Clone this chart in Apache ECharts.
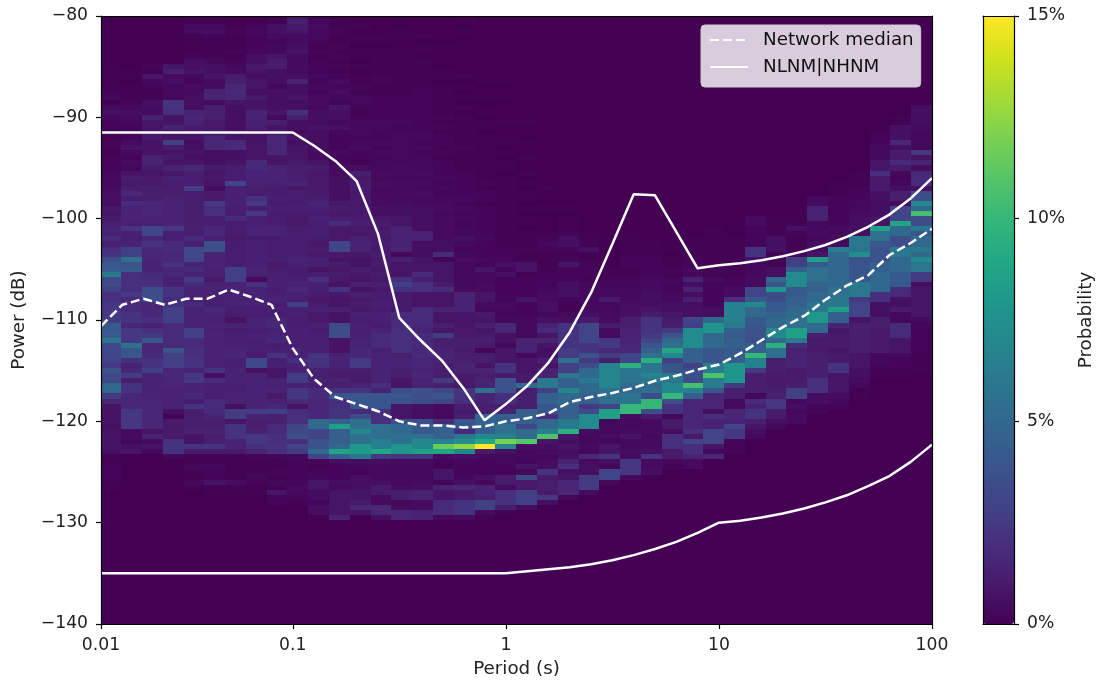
<!DOCTYPE html>
<html><head><meta charset="utf-8">
<style>html,body{margin:0;padding:0;background:#fff}#c{width:1098px;height:683px}</style>
<script src="https://cdn.jsdelivr.net/npm/echarts@6/dist/echarts.min.js"></script>
</head><body><div id="c"></div>
<script>
// Column edges of the probability grid (period, seconds)
const periodEdges = [0.01259,0.01565,0.01959,0.02453,0.03071,0.03845,0.04814,0.06026,0.07543,0.09443,0.1182,0.148,0.1853,0.2319,0.2904,0.3636,0.4552,0.57,0.7133,0.8932,1.118,1.4,1.753,2.194,2.747,3.44,4.305,5.391,6.747,8.447,10.57,13.24,16.58,20.75,25.98,32.52,40.72,50.97,63.82,79.89,100];
// Power of the first entry of each column (entries step down by 0.5 dB)
const columnTop = [-85,-85,-85,-85,-80,-80,-80,-80,-80,-80,-80,-80,-80,-80,-80,-80,-80,-80,-80,-85,-90,-95,-95,-100,-105,-100,-100,-100,-100,-100,-100,-100,-100,-100,-95,-95,-95,-90,-90,-85];
// Probability per column, tenths of a percent
const col00=[1,1,1,1,1,2,3,1,4,6, 3,2,2,2,1,2,2,1,2,2, 2,3,3,3,4,5,6,5,9,8, 9,13,14,14,18,13,20,22,35,42, 44,60,33,34,28,20,20,24,24,24, 26,42,42,44,58,33,33,30,30,25, 38,32,32,50,50,25,15,8,7,7, 8,6,7,7,8,7,6,1,1,2, 2,2,1,1];
const col01=[0,1,1,0,1,1,1,2,3,6, 4,3,2,3,2,4,7,3,2,4, 3,8,11,10,11,16,11,18,14,14, 14,13,22,13,13,14,28,28,55,38, 42,20,20,20,20,25,18,18,18,22, 22,16,24,24,24,55,40,40,20,14, 15,26,12,22,22,16,16,16,24,24, 24,24,4,4,3,6,8];
const col02=[2,1,8,3,2,1,1,5,5,4, 14,8,8,9,9,7,7,7,14,14, 10,8,10,10,13,12,12,16,16,16, 14,14,30,30,16,22,15,15,15,14, 14,18,20,20,35,35,35,16,16,16, 20,14,20,25,40,15,15,18,22,22, 28,14,14,14,14,14,16,16,16,16, 16,16,8,14,4,7,3];
const col03=[8,12,4,5,3,3,3,22,22,20, 8,8,14,8,8,28,10,8,10,8, 14,9,13,11,12,12,14,14,14,14, 14,14,24,13,13,18,18,16,16,22, 16,16,13,13,22,22,18,22,28,28, 28,18,18,18,18,18,38,28,28,28, 15,15,15,15,14,14,14,14,6,2, 10,10,10,10,22,22,22,3];
const col04=[0,1,3,5,1,1,1,1,2,5, 6,8,3,2,4,4,6,5,5,14, 15,14,10,10,8,6,6,8,6,8, 16,12,11,11,26,11,11,12,12,11, 12,12,13,12,18,13,32,32,30,14, 18,14,26,18,14,14,14,18,14,14, 14,14,28,28,18,18,20,20,22,22, 14,24,24,14,14,16,11,22,12,12, 12,12,14,8,8,22,10,1,1,3, 1,1,3,1];
const col05=[0,1,3,5,2,1,1,1,1,3, 6,6,8,4,4,14,14,4,12,13, 12,10,9,8,15,15,15,5,6,6, 10,8,9,8,6,10,9,24,20,20, 11,11,16,16,13,36,36,14,14,14, 13,13,9,14,14,14,13,13,16,14, 13,14,13,14,14,14,14,14,14,14, 22,5,18,13,13,11,18,18,18,14, 12,12,14,12,12,22,10,1,1,3, 2,2,7,1,1];
const col06=[0,0,1,2,1,1,1,2,1,2, 3,4,10,12,16,17,16,8,6,5, 6,6,5,8,8,18,18,6,6,8, 11,11,11,30,13,13,13,13,11,11, 18,11,11,11,9,11,11,11,11,11, 28,28,28,14,14,14,14,14,11,11, 7,14,11,13,13,13,14,16,13,13, 14,14,14,13,13,14,14,6,26,26, 8,22,22,22,14,14,10,1,1,1, 1,1,4,1,1];
const col07=[0,0,2,3,2,2,2,2,6,6, 9,7,5,8,8,6,9,7,7,14, 14,13,12,7,7,8,8,8,8,17, 17,14,14,14,12,11,20,24,12,24, 13,13,14,14,11,13,13,13,13,13, 14,14,4,20,14,14,14,14,11,11, 14,14,11,14,13,13,13,11,32,32, 6,14,14,14,14,14,14,14,26,14, 12,12,14,24,24,20,14,2,1,1, 1,3,2,1,1];
const col08=[0,1,6,6,4,2,3,3,8,11, 11,6,6,5,3,6,6,6,6,8, 4,12,8,8,16,16,16,16,8,8, 14,14,14,13,11,11,13,11,13,11, 11,11,14,14,11,11,11,11,13,9, 11,13,13,13,11,13,14,11,13,11, 16,16,13,14,16,11,13,22,13,13, 8,8,14,13,14,9,13,16,28,13, 12,18,18,20,20,22,20,3,1,1, 2,1,3,1,8,2,2];
const col09=[8,12,10,8,4,4,6,8,4,4, 4,4,6,14,6,6,8,6,6,20, 12,6,6,4,8,6,8,8,8,10, 12,11,11,14,9,11,11,11,13,11, 9,9,11,11,11,11,11,11,14,13, 11,11,13,14,16,13,13,28,13,13, 11,11,13,13,13,13,14,14,20,14, 14,26,26,13,24,24,18,7,20,20, 20,30,34,36,20,30,26,3,2,2, 2,2,2,4,3,2,1];
const col10=[1,3,4,3,3,2,1,2,1,2, 2,2,3,2,3,2,4,4,3,5, 5,4,7,5,5,5,5,4,4,8, 11,9,9,10,9,10,11,14,13,11, 13,11,11,13,11,9,11,9,13,13, 7,11,20,13,13,11,9,11,13,9, 9,13,11,13,13,13,13,22,22,20, 13,13,14,13,18,18,15,15,16,16, 50,50,30,30,38,38,52,30,2,1, 2,3,8,8,4,4,2,5,5,1];
const col11=[0,1,1,2,1,1,2,1,2,1, 2,1,2,4,2,4,3,2,8,6, 6,3,6,2,2,2,2,4,2,2, 4,4,6,6,6,6,6,9,11,9, 11,18,9,9,9,30,30,9,7,11, 9,11,9,7,22,9,8,8,13,7, 7,34,34,34,7,7,7,14,14,14, 12,10,14,12,22,40,20,20,22,22, 45,85,45,45,45,50,88,45,5,2, 2,2,5,4,8,8,8,8,8,14];
const col12=[0,0,1,0,1,1,0,1,1,0, 1,0,1,1,2,1,3,3,2,1, 2,3,3,3,2,3,4,2,2,1, 5,12,9,11,11,9,9,9,9,9, 11,13,9,9,13,14,14,9,7,7, 11,9,8,13,7,13,9,11,9,13, 11,13,13,13,14,14,16,16,26,26, 12,10,10,14,22,40,40,40,18,35, 55,55,70,55,55,82,82,60,5,3, 2,6,6,5,8,8,10,16,8];
const col13=[0,0,0,0,1,1,0,1,1,1, 1,1,2,2,1,1,2,2,2,2, 2,3,3,2,2,3,2,3,2,3, 3,4,3,5,4,4,4,4,6,6, 9,11,9,11,9,11,9,11,9,11, 9,11,9,13,9,11,11,13,11,13, 13,11,14,18,18,18,13,14,14,14, 14,14,14,20,14,40,40,40,20,20, 20,55,55,55,65,65,90,25,5,3, 3,3,6,10,10,4,4,16,16,5];
const col14=[0,0,0,1,1,0,0,1,1,1, 1,1,1,1,1,1,2,2,2,2, 2,3,2,3,3,3,3,3,3,3, 4,4,3,4,4,4,4,5,6,6, 8,8,14,14,14,14,14,3,12,8, 8,8,20,28,20,10,10,10,10,18, 18,18,20,20,20,20,20,12,14,14, 12,12,8,8,35,40,38,8,8,8, 35,50,50,55,55,78,78,22,4,3, 3,3,3,5,12,12,3,4,16,16];
const col15=[0,0,0,0,1,0,1,1,0,1, 1,1,1,1,1,2,2,2,2,2, 2,2,2,3,3,2,3,2,3,3, 3,4,3,4,3,5,4,4,5,6, 6,6,6,14,14,6,5,5,8,8, 8,18,12,20,20,8,8,8,18,18, 18,16,14,18,18,18,16,18,16,16, 14,16,14,14,38,35,35,6,6,6, 35,42,42,55,70,70,85,22,4,3, 3,3,4,6,14,14,4,4,14,14];
const col16=[0,0,0,0,0,0,1,0,0,0, 0,1,1,0,1,1,1,1,1,1, 2,1,2,1,2,2,1,2,1,2, 2,2,3,2,3,2,3,3,4,3, 4,4,4,4,4,6,6,18,2,8, 8,8,8,10,18,8,8,8,14,8, 8,12,8,26,12,12,14,14,14,12, 12,12,25,12,30,40,30,4,4,4, 18,45,45,45,65,115,88,4,2,1, 8,8,2,14,8,8,18,18,18,3];
const col17=[0,1,0,1,0,0,0,0,0,0, 0,0,1,0,1,0,1,0,1,0, 1,1,1,1,1,1,2,1,1,1, 1,2,2,2,2,2,3,2,3,2, 3,2,3,3,6,3,2,3,4,3, 3,3,3,3,4,14,14,14,14,8, 8,8,10,10,12,12,10,12,12,14, 14,10,10,10,22,22,20,12,10,12, 40,40,18,60,75,125,70,6,3,2, 2,3,6,16,10,10,22,22,22,4];
const col18=[0,0,0,0,0,0,0,0,0,0, 0,0,0,1,0,0,1,0,0,1, 0,1,1,0,1,1,1,1,1,1, 1,1,1,2,1,2,2,1,2,2, 2,2,2,2,3,2,2,2,3,2, 8,3,3,4,4,8,8,4,3,10, 8,12,8,10,12,10,2,12,12,8, 14,12,14,14,55,14,14,12,12,48, 48,45,45,70,90,150,10,4,2,2, 2,6,3,14,14,12,28,28,4,1];
const col19=[0,0,0,1,0,0,1,0,0,0, 0,1,0,0,1,1,0,1,0,1, 1,0,1,1,1,1,1,1,1,1, 1,1,1,1,1,1,2,2,2,6, 2,6,2,2,2,2,2,4,3,2, 3,16,16,6,6,3,8,8,8,22, 22,10,38,38,38,20,20,12,14,45, 45,55,55,65,120,68,6,3,3,2, 2,10,10,4,20,20,20,12,1];
const col20=[0,1,0,0,0,1,0,0,1,0, 0,1,0,1,0,1,1,0,1,0, 1,1,0,1,1,1,2,1,1,7, 7,1,2,2,2,2,7,2,2,2, 3,3,3,3,14,14,14,3,8,8, 8,10,10,50,12,12,12,12,45,45, 45,30,52,52,110,5,3,3,2,8, 3,32,10,10,28,28,28,4];
const col21=[0,0,0,0,1,0,0,0,1,0, 0,0,0,1,2,3,2,1,1,1, 1,2,2,2,3,4,4,6,6,3, 6,14,18,8,14,8,6,6,12,8, 14,14,60,60,28,45,45,40,40,20, 50,50,65,108,8,6,4,3,4,5, 22,10,12,12,10,24,5];
const col22=[0,0,0,0,0,0,0,0,1,0, 1,1,1,2,6,6,2,1,2,8, 2,2,2,6,6,6,2,1,1,4, 6,22,22,22,22,22,26,26,55,28, 28,60,45,45,68,50,50,45,45,45, 60,60,95,8,6,8,6,6,14,20, 6,8,16,16,16,3];
const col23=[0,0,0,1,1,1,6,1,1,2, 2,2,1,3,3,3,3,3,3,6, 10,30,30,30,30,22,22,38,25,35, 50,50,60,50,50,45,45,25,35,72, 72,72,4,3,3,4,3,16,4,6, 6,26,26,26,4];
const col24=[1,1,2,2,3,3,10,3,3,4, 4,10,4,4,24,25,16,26,12,68, 68,68,68,68,55,55,55,30,85,85, 3,3,3,4,3,8,8,22,5,3, 30,30,3];
const col25=[0,0,0,1,1,1,1,1,2,2, 1,1,2,2,3,3,4,5,6,6, 12,12,14,14,14,16,16,30,30,95, 58,58,58,50,50,58,58,100,100,5, 3,3,4,8,3,3,5,4,24,24, 24,3];
const col26=[0,0,0,0,0,1,1,1,2,2, 2,2,3,3,4,6,5,5,8,10, 22,22,22,25,30,40,45,55,95,58, 58,68,60,50,55,35,100,100,35,10, 4,4,4,3,4,4,6,22,4,4, 6,1];
const col27=[0,0,0,0,0,0,1,0,1,1, 2,1,3,2,2,3,3,6,6,8, 10,12,25,38,50,55,90,70,28,40, 40,60,60,70,70,100,35,22,22,3, 10,10,5,20,20,20,10,10,3,2];
const col28=[0,0,0,0,1,1,1,1,2,2, 4,3,14,5,14,5,12,5,6,6, 30,28,72,72,72,72,45,45,45,28, 35,35,35,105,65,45,15,15,15,16, 16,16,20,10,30,20,20,14,4,4];
const col29=[0,0,1,1,1,1,1,1,1,1, 2,1,4,2,2,2,2,2,5,5, 50,78,78,50,50,50,40,40,40,62, 62,108,62,62,40,15,15,15,5,20, 14,14,30,30,30,8,3,16];
const col30=[0,0,0,0,1,1,1,1,1,1, 2,1,2,2,4,4,20,65,65,65, 65,60,45,42,45,45,42,42,45,78, 78,78,78,25,12,12,4,4,15,15, 14,30,24,24,2,2,2];
const col31=[4,4,2,2,2,2,22,22,6,3, 3,3,4,4,30,30,42,70,50,50, 42,40,38,38,35,45,45,100,65,65, 25,12,12,12,12,3,18,14,22,22, 12,8,5,3];
const col32=[1,1,1,1,6,6,6,1,1,1, 6,6,50,38,80,35,35,42,42,45, 50,50,70,70,50,95,55,55,12,12, 12,10,10,10,12,12,24,24,10,10, 5,3];
const col33=[1,1,6,2,1,1,1,2,28,28, 45,72,72,72,42,42,45,45,50,50, 55,55,85,85,62,18,14,14,14,14, 10,10,10,12,28,28,3,5,3,4, 4];
const col34=[0,0,0,0,0,0,4,4,14,14, 14,3,3,4,3,5,5,8,85,42, 55,55,55,45,45,50,50,60,60,80, 80,50,50,12,10,10,10,12,12,12, 12,12,20,20,20,5,5,2,2];
const col35=[0,0,0,1,1,1,2,2,2,2, 2,2,4,3,4,4,65,50,50,50, 50,50,50,50,55,55,60,60,85,45, 45,15,8,10,10,10,8,10,10,22, 22,8,8,8,8,5,3,2];
const col36=[0,1,1,1,2,2,2,3,3,4, 5,5,6,6,60,60,58,75,38,38, 40,40,40,60,60,60,25,30,30,30, 8,12,12,12,12,12,12,8,8,8, 6,6,4,3,1,1];
const col37=[0,0,0,1,2,2,3,3,3,8, 8,20,10,10,10,6,6,5,5,5, 8,8,85,55,55,42,38,38,38,45, 45,50,50,50,50,20,20,6,6,5, 12,12,10,10,10,10,10,3,3,2, 1,1];
const col38=[1,1,6,6,6,16,6,10,10,18, 10,3,2,3,6,12,12,4,30,30, 30,88,50,50,35,35,60,60,50,50, 50,42,42,42,18,18,6,6,10,3, 3,18,18,18,8,8,8,3,2,2, 1,1];
const col39=[0,0,0,0,0,0,0,0,5,5, 5,5,4,3,3,3,3,24,8,14, 5,16,18,18,6,35,35,70,50,105, 35,35,60,40,50,50,60,50,70,60, 60,25,25,5,8,8,8,8,8,8, 4,2,2,2,2,2,2,1,1,1, 1];
const probabilityColumns=[col00,col01,col02,col03,col04,col05,col06,col07,col08,col09,col10,col11,col12,col13,col14,col15,col16,col17,col18,col19,col20,col21,col22,col23,col24,col25,col26,col27,col28,col29,col30,col31,col32,col33,col34,col35,col36,col37,col38,col39];

// Line series
const gridPeriods=[0.01259,0.01585,0.01995,0.02512,0.03162,0.03981,0.05012,0.0631,0.07943,0.1,0.1259,0.1585,0.1995,0.2512,0.3162,0.3981,0.5012,0.631,0.7943,1,1.259,1.585,1.995,2.512,3.162,3.981,5.012,6.31,7.943,10,12.59,15.85,19.95,25.12,31.62,39.81,50.12,63.1,79.43,100];
const medianPower=[-110.6,-108.5,-107.9,-108.5,-107.9,-107.9,-107,-107.7,-108.5,-112.8,-115.8,-117.6,-118.3,-119,-120,-120.4,-120.4,-120.6,-120.5,-120,-119.7,-119.2,-118.1,-117.6,-117.2,-116.7,-116,-115.5,-114.9,-114.4,-113.3,-112,-110.7,-109.6,-108,-106.6,-105.6,-103.6,-102.4,-101];
const nhnmPower=[-91.5,-91.5,-91.5,-91.5,-91.5,-91.5,-91.5,-91.5,-91.5,-91.5,-92.8,-94.3,-96.3,-101.5,-109.8,-112,-114,-116.7,-119.9,-118.3,-116.5,-114.2,-111.2,-107.3,-102.5,-97.6,-97.7,-101.3,-104.9,-104.6,-104.4,-104.1,-103.7,-103.2,-102.6,-101.8,-100.8,-99.6,-98,-96];
const nlnmPower=[-135,-135,-135,-135,-135,-135,-135,-135,-135,-135,-135,-135,-135,-135,-135,-135,-135,-135,-135,-135,-134.8,-134.6,-134.4,-134.1,-133.7,-133.2,-132.6,-131.9,-131,-130,-129.8,-129.5,-129.1,-128.6,-128,-127.3,-126.4,-125.4,-124,-122.3];
const xTickValues=[0.01259,0.1,1,10,100];
const viridis=['#440154','#481a6c','#472f7d','#414487','#39568c','#31688e','#2a788e','#23888e','#1f988b','#22a884','#35b779','#54c568','#7ad151','#a5db36','#d2e21b','#fde725'];

const zip=a=>gridPeriods.map((p,i)=>[p,a[i]]);
const cells=[];
probabilityColumns.forEach((col,k)=>{
  col.forEach((v,r)=>{
    if(v>0) cells.push([periodEdges[k],periodEdges[k+1],columnTop[k]-0.5*r,v/10]);
  });
});
const font='"DejaVu Sans"', fs=17.2, fsTitle=18.3;
const black={color:'#000',width:1.2};
const chart=echarts.init(document.getElementById('c'),null,{renderer:'canvas'});
chart.setOption({
  animation:false,
  backgroundColor:'#fff',
  textStyle:{fontFamily:font},
  grid:[
    {left:101,top:16,width:831,height:608,show:true,backgroundColor:'#440154',borderWidth:0},
    {left:983,top:16,width:31,height:608,show:false}
  ],
  xAxis:[
    {type:'log',gridIndex:0,min:0.01259,max:100,position:'bottom',z:5,splitLine:{show:false},
      axisLine:{show:true,onZero:false,lineStyle:black},
      axisTick:{show:true,length:5,customValues:xTickValues,lineStyle:black},
      minorTick:{show:false},
      axisLabel:{show:true,customValues:xTickValues,color:'#222',fontFamily:font,fontSize:fs,margin:13,hideOverlap:false,showMinLabel:true,showMaxLabel:true,
        formatter:v=>v<0.05?'0.01':String(Math.round(v*10)/10)},
      name:'Period (s)',nameLocation:'middle',nameGap:36,nameTextStyle:{color:'#222',fontFamily:font,fontSize:fsTitle}},
    {type:'log',gridIndex:0,min:0.01259,max:100,position:'top',z:5,splitLine:{show:false},
      axisLine:{show:true,onZero:false,lineStyle:black},axisTick:{show:false},axisLabel:{show:false}},
    {type:'value',gridIndex:1,min:0,max:1,position:'bottom',z:6,splitLine:{show:false},
      axisLine:{show:true,onZero:false,lineStyle:black},axisTick:{show:false},axisLabel:{show:false}},
    {type:'value',gridIndex:1,min:0,max:1,position:'top',z:6,splitLine:{show:false},
      axisLine:{show:true,onZero:false,lineStyle:black},axisTick:{show:false},axisLabel:{show:false}}
  ],
  yAxis:[
    {type:'value',gridIndex:0,min:-140,max:-80,interval:10,position:'left',z:5,splitLine:{show:false},
      axisLine:{show:true,onZero:false,lineStyle:black},
      axisTick:{show:true,length:5,lineStyle:black},
      axisLabel:{color:'#222',fontFamily:font,fontSize:fs,margin:13,formatter:v=>String(v).replace('-','\u2212')},
      name:'Power (dB)',nameLocation:'middle',nameGap:73,nameRotate:90,nameTextStyle:{color:'#222',fontFamily:font,fontSize:fsTitle}},
    {type:'value',gridIndex:0,min:-140,max:-80,position:'right',z:5,splitLine:{show:false},
      axisLine:{show:true,onZero:false,lineStyle:black},axisTick:{show:false},axisLabel:{show:false}},
    {type:'value',gridIndex:1,min:0,max:15,interval:5,position:'right',z:6,splitLine:{show:false},
      axisLine:{show:true,onZero:false,lineStyle:black},
      axisTick:{show:true,length:5,lineStyle:black},
      axisLabel:{color:'#222',fontFamily:font,fontSize:fs,margin:13,formatter:'{value}%'},
      name:'Probability',nameLocation:'middle',nameGap:63,nameRotate:90,nameTextStyle:{color:'#222',fontFamily:font,fontSize:fsTitle}},
    {type:'value',gridIndex:1,min:0,max:15,position:'left',z:6,splitLine:{show:false},
      axisLine:{show:true,onZero:false,lineStyle:black},axisTick:{show:false},axisLabel:{show:false}}
  ],
  visualMap:{type:'continuous',seriesIndex:0,dimension:3,min:0,max:15,calculable:false,show:true,z:2,
    left:983,top:16,itemWidth:31,itemHeight:608,text:null,showLabel:false,padding:0,
    inRange:{color:viridis},label:{show:false},textStyle:{fontSize:0}},
  legend:{left:701,top:25,orient:'vertical',padding:[6,7,11,8],itemWidth:38,itemHeight:14,itemGap:9,
    backgroundColor:'rgba(255,255,255,0.8)',borderColor:'#ccc',borderWidth:1,borderRadius:4,
    itemStyle:{opacity:0,borderWidth:0},
    data:['Network median','NLNM|NHNM'],textStyle:{color:'#111',fontFamily:font,fontSize:fsTitle,padding:[0,0,0,10]},selectedMode:false},
  series:[
    {type:'custom',xAxisIndex:0,yAxisIndex:0,z:1,silent:true,clip:true,
      data:cells,dimensions:['from','to','power','prob'],encode:{x:[0,1],y:2},
      renderItem:function(params,api){
        const a=api.coord([api.value(0),api.value(2)+0.25]);
        const b=api.coord([api.value(1),api.value(2)-0.25]);
        const x0=Math.round(a[0]),x1=Math.round(b[0]),y0=Math.round(a[1]),y1=Math.round(b[1]);
        return {type:'rect',shape:{x:x0,y:y0,width:x1-x0,height:y1-y0},style:{fill:api.visual('color')}};
      }},
    {type:'line',name:'Network median',xAxisIndex:0,yAxisIndex:0,z:3,showSymbol:false,symbol:'none',silent:true,data:zip(medianPower),
      lineStyle:{color:'#fff',width:2.5,type:[9,4]},itemStyle:{color:'#fff'}},
    {type:'line',name:'NLNM|NHNM',xAxisIndex:0,yAxisIndex:0,z:3,showSymbol:false,symbol:'none',silent:true,data:zip(nhnmPower),
      lineStyle:{color:'#fff',width:2.5},itemStyle:{color:'#fff'}},
    {type:'line',name:'NLNM|NHNM',xAxisIndex:0,yAxisIndex:0,z:3,showSymbol:false,symbol:'none',silent:true,data:zip(nlnmPower),
      lineStyle:{color:'#fff',width:2.5},itemStyle:{color:'#fff'}}
  ]
});
</script></body></html>
